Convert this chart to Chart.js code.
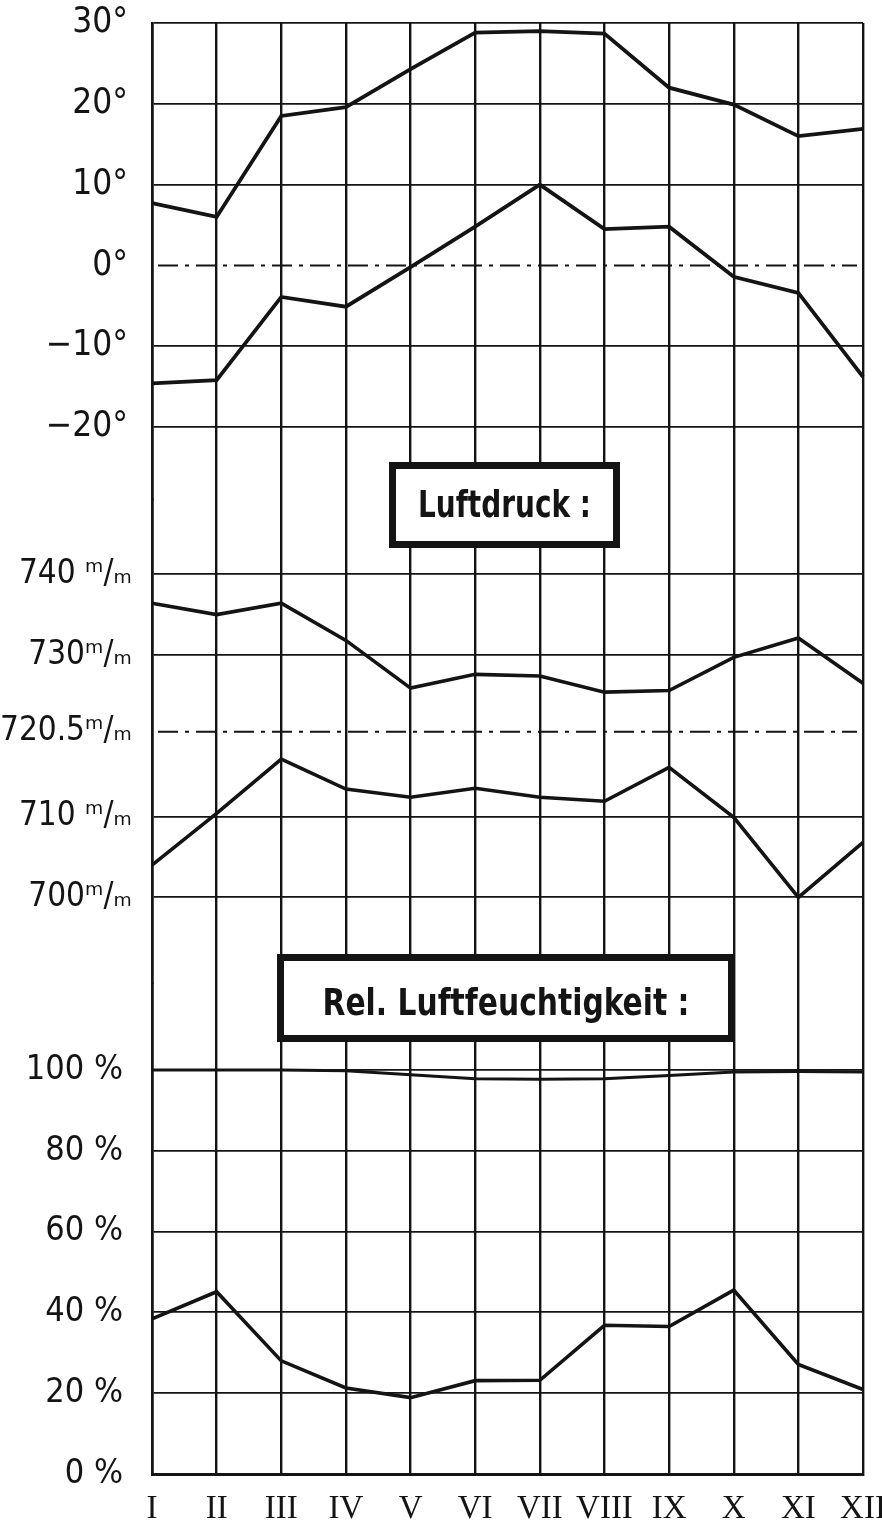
<!DOCTYPE html>
<html>
<head>
<meta charset="utf-8">
<title>Klima</title>
<script src="https://cdn.jsdelivr.net/npm/chart.js@4.4.1/dist/chart.umd.min.js"></script>
<style>
  html, body { margin: 0; padding: 0; background: #fff; }
  #wrap { position: relative; width: 882px; height: 1532px; }
</style>
</head>
<body>
<div id="wrap"><canvas id="klima"></canvas></div>
<script>
const monate = ["I", "II", "III", "IV", "V", "VI", "VII", "VIII", "IX", "X", "XI", "XII"];

// Temperatur (°C)
const tempMax = [7.7, 6.0, 18.5, 19.6, 24.3, 28.8, 29.0, 28.7, 22.0, 19.9, 16.0, 16.9];
const tempMin = [-14.6, -14.2, -3.9, -5.1, -0.2, 4.8, 10.0, 4.5, 4.8, -1.4, -3.4, -13.8];
const tempTicks = [-20, -10, 0, 10, 20, 30];
const tempLabels = ["−20°", "−10°", "0°", "10°", "20°", "30°"];
const tempNull = 0;

// Luftdruck (mm)
const druckHoch = [736.4, 735.0, 736.4, 731.8, 725.9, 727.6, 727.4, 725.4, 725.6, 729.7, 732.1, 726.5];
const druckTief = [704.0, 710.4, 717.1, 713.4, 712.4, 713.5, 712.4, 711.9, 716.1, 709.9, 700.0, 706.8];
const druckTicks = [700, 710, 720.5, 730, 740];
const druckLabels = ["700ᵐ/ₘ", "710 ᵐ/ₘ", "720.5ᵐ/ₘ", "730ᵐ/ₘ", "740 ᵐ/ₘ"];
const druckMittel = 720.5;

// Rel. Luftfeuchtigkeit (%)
const feuchteHoch = [100, 100, 100, 99.8, 98.8, 97.8, 97.7, 97.8, 98.6, 99.5, 99.6, 99.5];
const feuchteTief = [38.4, 45.1, 28.0, 21.3, 18.9, 23.1, 23.2, 36.8, 36.5, 45.5, 27.1, 20.9];
const feuchteTicks = [0, 20, 40, 60, 80, 100];
const feuchteLabels = ["0 %", "20 %", "40 %", "60 %", "80 %", "100 %"];

const schwarz = "#141414";
const zahlFont = '"DejaVu Sans Condensed", "DejaVu Sans", sans-serif';
const titelFont = '"DejaVu Sans Condensed", "DejaVu Sans", sans-serif';

function yAchse(min, max, schritt, ticks, labels, gewicht, abstand, ohneLinie, groesse) {
  return {
    type: "linear",
    position: "left",
    stack: "klima",
    stackWeight: (max - min) / schritt,
    weight: gewicht,
    min: min,
    max: max,
    afterBuildTicks: (s) => { s.ticks = ticks.map(v => ({ value: v })); },
    afterFit: (s) => {
      s.width = 152;
      s.paddingTop = 0;
      s.paddingBottom = 0;
    },
    grid: {
      drawTicks: false,
      lineWidth: 1.8,
      color: (c) => (c.tick && c.tick.value === ohneLinie) ? "rgba(0,0,0,0)" : schwarz
    },
    border: { color: schwarz, width: 2.6 },
    ticks: {
      padding: abstand,
      color: schwarz,
      font: { family: zahlFont, size: groesse },
      callback: (v) => labels[ticks.indexOf(v)]
    }
  };
}

function kasten(ctx, x, y, w, h, text, grundlinie, breite) {
  ctx.save();
  ctx.fillStyle = "#fff";
  ctx.fillRect(x, y, w, h);
  ctx.lineWidth = 7;
  ctx.strokeStyle = schwarz;
  ctx.setLineDash([]);
  ctx.strokeRect(x + 3.5, y + 3.5, w - 7, h - 7);
  ctx.fillStyle = schwarz;
  ctx.font = "bold 38px " + titelFont;
  ctx.textAlign = "center";
  ctx.textBaseline = "alphabetic";
  const sx = breite / ctx.measureText(text).width;
  ctx.translate(x + w / 2, grundlinie);
  ctx.scale(sx, 1);
  ctx.fillText(text, 0, 0);
  ctx.restore();
}

const beschriftung = {
  id: "beschriftung",
  beforeDatasetsDraw(chart) {
    const { ctx, chartArea, scales } = chart;
    ctx.save();
    ctx.strokeStyle = schwarz;
    ctx.lineWidth = 2;
    ctx.setLineDash([20, 7, 4, 7]);
    [[scales.yTemp, tempNull], [scales.yDruck, druckMittel]].forEach(([s, v]) => {
      const y = s.getPixelForValue(v);
      ctx.beginPath();
      ctx.moveTo(chartArea.left + 6, y);
      ctx.lineTo(chartArea.right - 6, y);
      ctx.stroke();
    });
    ctx.restore();
  },
  afterDatasetsDraw(chart) {
    const { ctx } = chart;
    kasten(ctx, 389, 462, 231, 86, "Luftdruck :", 517, 173);
    kasten(ctx, 277, 954, 458, 88, "Rel. Luftfeuchtigkeit :", 1015, 367);
  }
};

function linie(daten, achse, dicke) {
  return {
    data: daten,
    yAxisID: achse,
    borderColor: schwarz,
    borderWidth: dicke,
    pointRadius: 0,
    tension: 0,
    fill: false
  };
}

new Chart(document.getElementById("klima"), {
  type: "line",
  data: {
    labels: monate,
    datasets: [
      linie(tempMax, "yTemp", 3.8),
      linie(tempMin, "yTemp", 3.8),
      linie(druckHoch, "yDruck", 3.6),
      linie(druckTief, "yDruck", 3.6),
      linie(feuchteHoch, "yFeuchte", 3),
      linie(feuchteTief, "yFeuchte", 3.6)
    ]
  },
  options: {
    responsive: true,
    maintainAspectRatio: false,
    animation: false,
    layout: { padding: { top: 23, right: 19, left: 0, bottom: 0 } },
    plugins: {
      legend: { display: false },
      tooltip: { enabled: false }
    },
    scales: {
      x: {
        offset: false,
        grid: { color: schwarz, lineWidth: 2.4, drawTicks: false },
        border: { color: schwarz, width: 3 },
        afterFit: (s) => {
          s.height = 58;
          s.paddingLeft = 0;
          s.paddingRight = 0;
        },
        ticks: {
          autoSkip: false,
          maxRotation: 0,
          padding: 16,
          color: schwarz,
          font: { family: '"Liberation Serif", "DejaVu Serif", serif', size: 33 }
        }
      },
      yTemp: yAchse(-29, 30, 10, tempTicks, tempLabels, 3, 24, tempNull, 35),
      yDruck: yAchse(689.4, 749.2, 10, druckTicks, druckLabels, 2, 20, druckMittel, 33),
      yFeuchte: yAchse(0, 121.5, 20, feuchteTicks, feuchteLabels, 1, 29, null, 34)
    }
  },
  plugins: [beschriftung]
});
</script>
</body>
</html>
